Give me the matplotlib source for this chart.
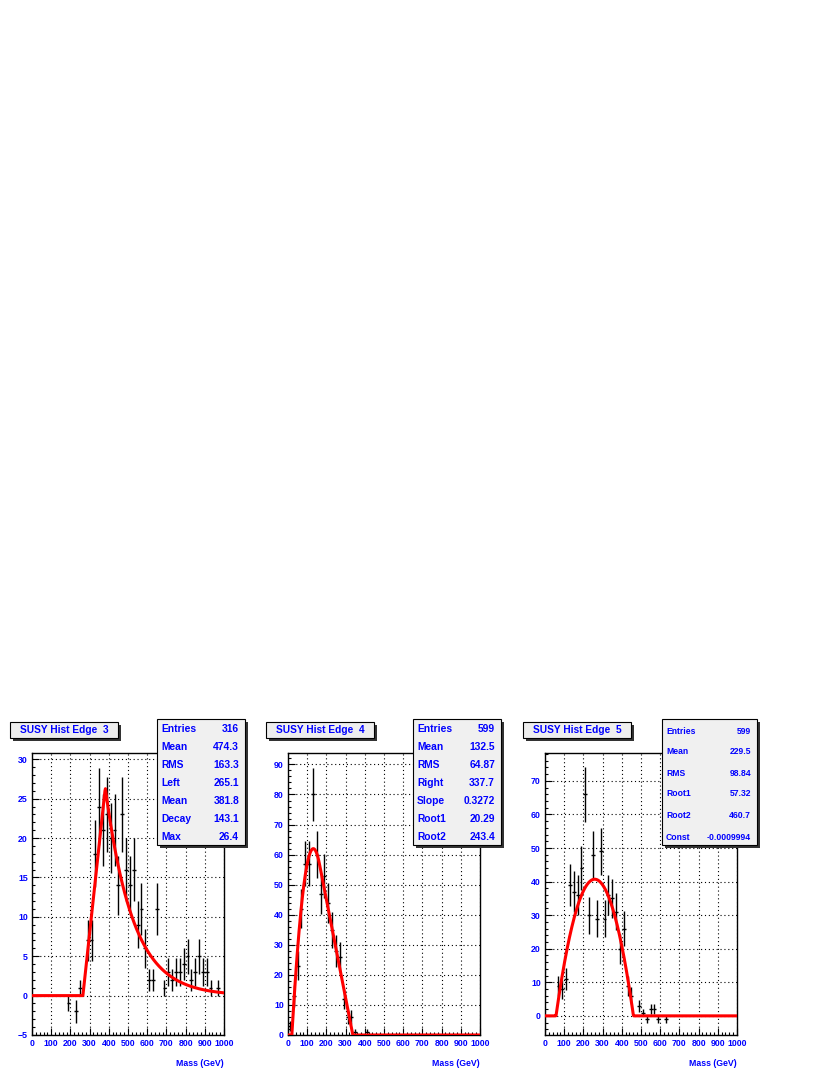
import numpy as np
import matplotlib
matplotlib.use("Agg")
import matplotlib.pyplot as plt
from matplotlib.patches import Rectangle

W, H = 830, 1075
BLUE = "#0000ff"
FONT = "Liberation Sans"

# ---- panel data (bin centres in GeV, bin contents) ----
edge3_x = [190, 230, 250, 290, 310, 330, 350, 370, 390, 410, 430, 450, 470, 490,
           510, 530, 550, 570, 590, 610, 630, 650, 690, 710, 730, 750, 770, 790,
           810, 830, 850, 870, 890, 910, 930, 970]
edge3_y = [-1, -2, 1, 7, 7, 18, 24, 21, 23, 20, 21, 14, 23, 16,
           14, 16, 9, 11, 6, 2, 2, 11, 1, 3, 2, 3, 3, 4,
           5, 2, 3, 5, 3, 3, 1, 1]
edge3_stats = [("Entries", "316"), ("Mean", "474.3"), ("RMS", "163.3"),
               ("Left", "265.1"), ("Mean", "381.8"), ("Decay", "143.1"),
               ("Max", "26.4")]

edge4_x = [10, 30, 50, 70, 90, 110, 130, 150, 170, 190, 210, 230, 250, 270,
           290, 310, 330, 350, 410]
edge4_y = [3, 13, 23, 42, 57, 57, 80, 60, 47, 53, 44, 35, 28, 26,
           12, 6, 6, 1, 1]
edge4_stats = [("Entries", "599"), ("Mean", "132.5"), ("RMS", "64.87"),
               ("Right", "337.7"), ("Slope", "0.3272"), ("Root1", "20.29"),
               ("Root2", "243.4")]

edge5_x = [70, 90, 110, 130, 150, 170, 190, 210, 230, 250, 270, 290, 310, 330,
           350, 370, 390, 410, 430, 450, 490, 510, 530, 550, 570, 590, 630]
edge5_y = [9, 8, 11, 39, 37, 36, 44, 66, 30, 48, 29, 49, 29, 36,
           35, 31, 20, 26, 9, 6, 3, 1, -1, 2, 2, -1, -1]
edge5_stats = [("Entries", "599"), ("Mean", "229.5"), ("RMS", "98.84"),
               ("Root1", "57.32"), ("Root2", "460.7"), ("Const", "-0.0009994")]

# fit parameters
p3 = dict(left=265.1, mean=381.8, decay=143.1, vmax=26.4)
p4 = dict(right=337.7, slope=0.3272, r1=20.29, r2=243.4)
p5 = dict(r1=57.32, r2=460.7, const=-0.0009994, peak=40.7)


def fit3(x):
    rise = p3["vmax"] * (x - p3["left"]) / (p3["mean"] - p3["left"])
    fall = p3["vmax"] * np.exp(-(x - p3["mean"]) / p3["decay"])
    return np.where(x < p3["left"], 0, np.where(x < p3["mean"], rise, fall))


def fit4(x):
    r1, r2, s, R = p4["r1"], p4["r2"], p4["slope"], p4["right"]
    m, h = (r1 + r2) / 2, (r2 - r1) / 2
    # parabola through the two roots, tangent to the falling edge line
    c = s * (R - m)
    a = (c + np.sqrt(c * c - s * s * h * h)) / (2 * h * h)
    xt = m + s / (2 * a)
    para = a * (x - r1) * (r2 - x)
    line = s * (R - x)
    y = np.where(x < xt, para, line)
    return np.where((x < r1) | (x > R), 0, y)


def fit5(x):
    r1, r2 = p5["r1"], p5["r2"]
    a = p5["peak"] / ((r2 - r1) / 2) ** 2
    y = a * (x - r1) * (r2 - x)
    return np.where((x < r1) | (x > r2), 0, y)


def fig_box(fig, x0, y0, x1, y1, face, shadow=3):
    fig.add_artist(Rectangle(((x0 + shadow) / W, 1 - (y1 + shadow) / H),
                             (x1 - x0) / W, (y1 - y0) / H, transform=fig.transFigure,
                             facecolor="#333333", edgecolor="none", zorder=5))
    fig.add_artist(Rectangle((x0 / W, 1 - y1 / H), (x1 - x0) / W, (y1 - y0) / H,
                             transform=fig.transFigure, facecolor=face,
                             edgecolor="black", linewidth=0.8, zorder=6))


def ftext(fig, x, y, s, size, ha="left"):
    fig.text(x / W, 1 - y / H, s, ha=ha, va="center", color=BLUE,
             fontsize=size, fontweight="bold", family=FONT, zorder=7)


def draw_panel(fig, left, xs, ys, fitfn, ylim, ymaj, ymin_step, title, stats,
               stats_size, row_y, sbox):
    top, bottom, width = 753, 1035, 192
    ax = fig.add_axes([left / W, 1 - bottom / H, width / W, (bottom - top) / H])
    xs = np.array(xs, float)
    ys = np.array(ys, float)
    ax.errorbar(xs, ys, yerr=np.sqrt(np.abs(ys)), xerr=10, fmt="none",
                ecolor="black", elinewidth=1.0, capsize=0, zorder=3)
    xf = np.linspace(0, 1000, 401)
    ax.plot(xf, fitfn(xf), color="red", linewidth=2.2, zorder=4)
    ax.set_xlim(0, 1000)
    ax.set_ylim(*ylim)
    ax.set_xticks(np.arange(0, 1001, 100))
    ax.set_xticks(np.arange(0, 1001, 20), minor=True)
    ax.set_yticks(ymaj)
    ax.set_yticks(np.arange(np.ceil(ylim[0] / ymin_step) * ymin_step, ylim[1], ymin_step),
                  minor=True)
    ax.grid(True, which="major", color="black", linestyle=(0, (1, 2.5)), linewidth=0.8)
    ax.tick_params(which="both", direction="in", top=False, right=False,
                   colors="black", labelcolor=BLUE, labelsize=6.3, pad=3)
    ax.tick_params(which="major", length=5, width=0.8)
    ax.tick_params(which="minor", length=2.5, width=0.8)
    for lab in ax.get_xticklabels() + ax.get_yticklabels():
        lab.set_fontweight("bold")
        lab.set_family(FONT)
    for sp in ax.spines.values():
        sp.set_linewidth(1.0)
    ftext(fig, left + width, 1063, "Mass (GeV)", 6.3, ha="right")

    # title box
    fig_box(fig, left - 22, 722, left + 86, 738, "#eeeeee")
    ftext(fig, left - 12, 730, title, 7.3)

    # stats box
    sx0, sx1 = sbox
    fig_box(fig, sx0, 719, sx1, 845, "#f0f0f0")
    for (name, val), yy in zip(stats, row_y):
        ftext(fig, sx0 + 4, yy, name, stats_size)
        ftext(fig, sx1 - 6, yy, val, stats_size, ha="right")
    return ax


fig = plt.figure(figsize=(W / 100, H / 100), dpi=100)

rows7 = [729, 747.5, 765.5, 783.5, 801.5, 819, 837]
rows6 = [731, 752, 773, 794, 816, 837]

draw_panel(fig, 32, edge3_x, edge3_y, fit3, (-5, 30.8), np.arange(-5, 31, 5), 1,
           "SUSY Hist Edge  3", edge3_stats, 7.4, rows7, (157, 245))
draw_panel(fig, 288, edge4_x, edge4_y, fit4, (0, 93.8), np.arange(0, 91, 10), 2,
           "SUSY Hist Edge  4", edge4_stats, 7.4, rows7, (413, 501))
draw_panel(fig, 545, edge5_x, edge5_y, fit5, (-5.7, 78.3), np.arange(0, 71, 10), 2,
           "SUSY Hist Edge  5", edge5_stats, 6.2, rows6, (662, 757))

fig.savefig("out.png", dpi=100)
